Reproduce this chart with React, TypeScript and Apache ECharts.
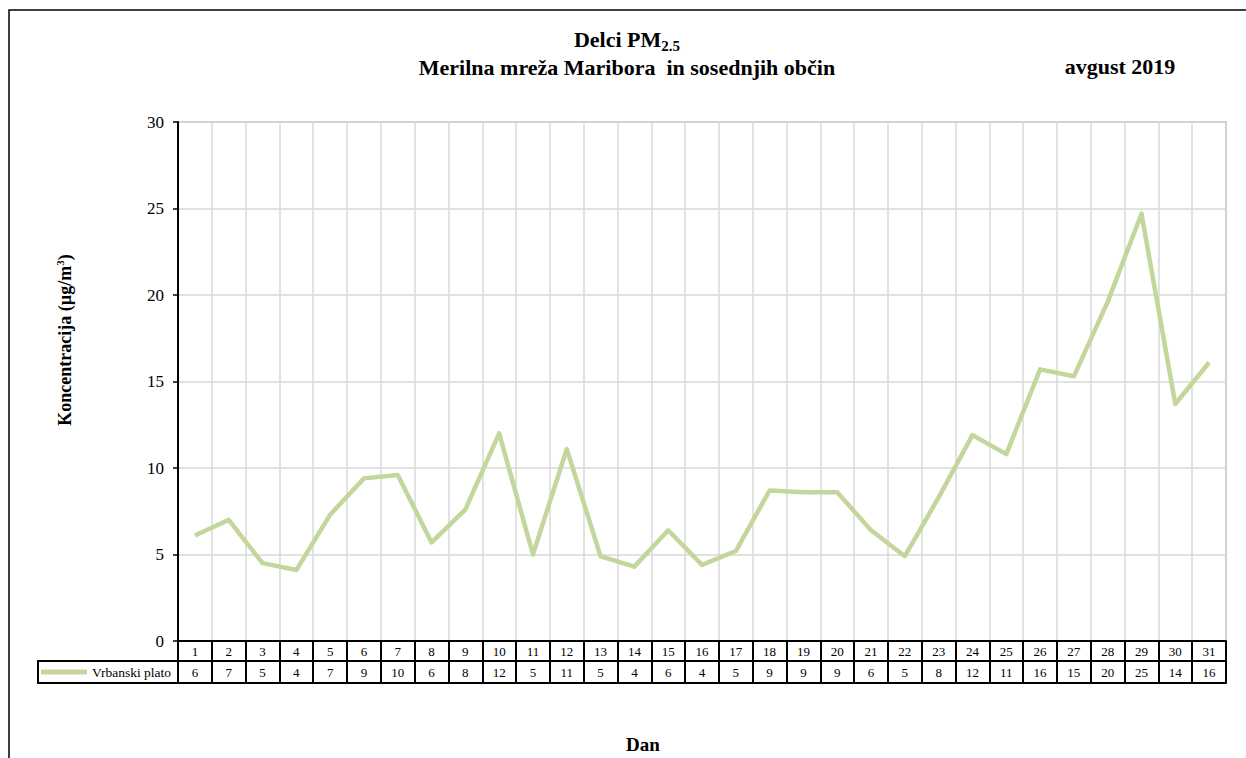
import React, { useEffect, useRef } from "react";
import * as echarts from "echarts";

const days: string[] = Array.from({ length: 31 }, (_, i) => String(i + 1));
const seriesName = "Vrbanski plato";
const values: number[] = [
  6.1, 7.0, 4.5, 4.1, 7.3, 9.4, 9.6, 5.7, 7.6, 12.0, 5.0, 11.1, 4.9, 4.3, 6.4, 4.4,
  5.2, 8.7, 8.6, 8.6, 6.4, 4.9, 8.3, 11.9, 10.8, 15.7, 15.3, 19.6, 24.7, 13.7, 16.1,
];
const yTicks = { min: 0, max: 30, interval: 5 };

const FONT = "Liberation Serif, Times New Roman, serif";
const LINE_COLOR = "#c3d69b";

export default function App() {
  const ref = useRef<HTMLDivElement>(null);
  useEffect(() => {
    document.body.style.margin = "0";
    const chart = echarts.init(ref.current!, null, { renderer: "svg" });
    const tableValues = values.map((v) => String(Math.round(v)));
    chart.setOption({
      animation: false,
      backgroundColor: "#ffffff",
      textStyle: { fontFamily: FONT },
      grid: {
        left: 178,
        right: 20,
        top: 122,
        bottom: 117,
        show: true,
        borderColor: "#a6a6a6",
        borderWidth: 1.5,
        backgroundColor: "transparent",
      },
      legend: {
        left: 41,
        top: 665,
        padding: 0,
        itemWidth: 46,
        itemHeight: 5,
        icon: "roundRect",
        itemStyle: { color: LINE_COLOR },
        textStyle: { fontFamily: FONT, fontSize: 13.5, color: "#000" },
        data: [seriesName],
      },
      xAxis: [
        {
          type: "category",
          data: days,
          boundaryGap: true,
          position: "bottom",
          axisLine: { show: true, lineStyle: { color: "#000", width: 2 } },
          axisTick: { show: true, inside: false, length: 20, lineStyle: { color: "#000", width: 2 } },
          axisLabel: { fontFamily: FONT, fontSize: 13, color: "#000", margin: 4, interval: 0 },
          splitLine: { show: true, lineStyle: { color: "#d9d9d9", width: 1.5 } },
        },
        {
          type: "category",
          data: days,
          boundaryGap: true,
          position: "bottom",
          offset: 20,
          axisLine: { show: true, lineStyle: { color: "#000", width: 2 } },
          axisTick: { show: true, inside: false, length: 22, lineStyle: { color: "#000", width: 2 } },
          axisLabel: {
            fontFamily: FONT,
            fontSize: 13,
            color: "#000",
            margin: 5,
            interval: 0,
            formatter: (_v: string, i: number) => tableValues[i],
          },
          splitLine: { show: false },
        },
        {
          type: "category",
          data: days,
          boundaryGap: true,
          position: "bottom",
          offset: 42,
          axisLine: { show: true, lineStyle: { color: "#000", width: 2 } },
          axisTick: { show: false },
          axisLabel: { show: false },
          splitLine: { show: false },
        },
      ],
      yAxis: {
        type: "value",
        min: yTicks.min,
        max: yTicks.max,
        interval: yTicks.interval,
        axisLine: { show: true, lineStyle: { color: "#000", width: 2 } },
        axisTick: { show: true, inside: false, length: 5, lineStyle: { color: "#000", width: 1.5 } },
        axisLabel: { fontFamily: FONT, fontSize: 17, color: "#000", margin: 14 },
        splitLine: { show: true, lineStyle: { color: "#d9d9d9", width: 1.5 } },
      },
      series: [
        {
          name: seriesName,
          type: "line",
          data: values,
          xAxisIndex: 0,
          symbol: "none",
          lineStyle: { color: LINE_COLOR, width: 4.5, join: "round" },
          itemStyle: { color: LINE_COLOR },
        },
      ],
      graphic: [
        {
          type: "rect",
          shape: { x: 9, y: 10, width: 1260, height: 780 },
          style: { fill: "none", stroke: "#000", lineWidth: 1.5 },
          silent: true,
        },
        {
          type: "rect",
          shape: { x: 38, y: 661, width: 140, height: 22 },
          style: { fill: "none", stroke: "#000", lineWidth: 2 },
          silent: true,
        },
        {
          type: "text",
          x: 65,
          y: 340,
          rotation: Math.PI / 2,
          style: {
            text: "Koncentracija (µg/m{sup|3})",
            fontFamily: FONT,
            fontSize: 18,
            fontWeight: "bold",
            fill: "#000",
            align: "center",
            verticalAlign: "middle",
            rich: {
              sup: { fontFamily: FONT, fontSize: 11, fontWeight: "bold", fill: "#000", verticalAlign: "top", lineHeight: 22 },
            },
          },
        },
        {
          type: "text",
          x: 627,
          y: 39,
          style: {
            text: "Delci PM{s|2.5}",
            fontFamily: FONT,
            fontSize: 22,
            fontWeight: "bold",
            fill: "#000",
            align: "center",
            verticalAlign: "middle",
            rich: {
              s: { fontFamily: FONT, fontSize: 15, fontWeight: "bold", fill: "#000", verticalAlign: "bottom", lineHeight: 29 },
            },
          },
        },
        {
          type: "text",
          x: 627,
          y: 67,
          style: {
            text: "Merilna mreža Maribora  in sosednjih občin",
            fontFamily: FONT,
            fontSize: 22,
            fontWeight: "bold",
            fill: "#000",
            align: "center",
            verticalAlign: "middle",
          },
        },
        {
          type: "text",
          x: 1120,
          y: 66,
          style: {
            text: "avgust 2019",
            fontFamily: FONT,
            fontSize: 22,
            fontWeight: "bold",
            fill: "#000",
            align: "center",
            verticalAlign: "middle",
          },
        },
        {
          type: "text",
          x: 643,
          y: 744,
          style: {
            text: "Dan",
            fontFamily: FONT,
            fontSize: 19,
            fontWeight: "bold",
            fill: "#000",
            align: "center",
            verticalAlign: "middle",
          },
        },
      ],
    });
    return () => chart.dispose();
  }, []);
  return <div ref={ref} style={{ width: 1246, height: 758 }} />;
}
